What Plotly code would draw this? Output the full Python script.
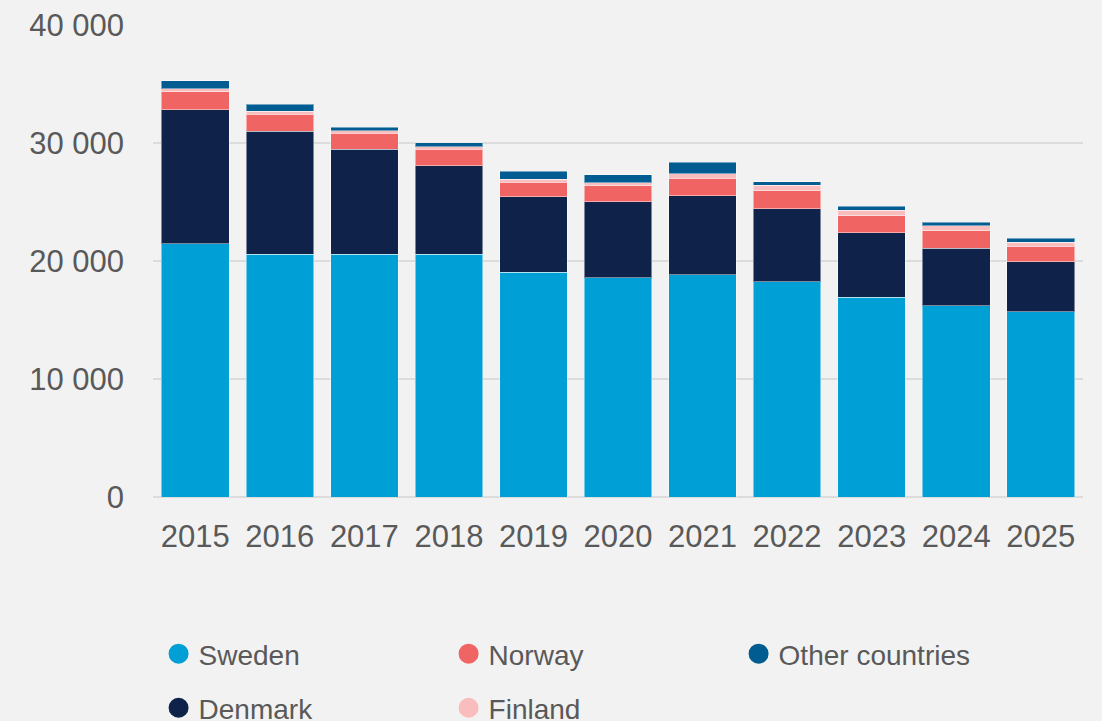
import plotly.graph_objects as go

years = ["2015", "2016", "2017", "2018", "2019", "2020", "2021", "2022", "2023", "2024", "2025"]
sweden = [21470, 20570, 20590, 20570, 19040, 18560, 18840, 18250, 16920, 16210, 15680]
denmark = [11360, 10420, 8870, 7490, 6410, 6470, 6670, 6160, 5480, 4890, 4260]
norway = [1520, 1440, 1360, 1390, 1220, 1330, 1520, 1550, 1440, 1470, 1330]
finland = [230, 280, 200, 250, 250, 280, 360, 460, 460, 400, 340]
other = [680, 570, 310, 340, 700, 650, 970, 280, 340, 310, 310]

# (name, values, colour, legend, rank)
series = [
    ("Sweden", sweden, "#00A0D6", "legend", 1),
    ("Denmark", denmark, "#0F2249", "legend2", 1),
    ("Norway", norway, "#F06464", "legend", 2),
    ("Finland", finland, "#F9BDBD", "legend2", 2),
    ("Other countries", other, "#005C91", "legend", 3),
]

text_color = "#595959"
fig = go.Figure()
for name, vals, color, leg, rank in series:
    fig.add_trace(go.Bar(
        x=years, y=vals, name=name, marker_color=color,
        marker_line=dict(color="rgba(255,255,255,0.45)", width=1),
        showlegend=False, hoverinfo="x+y+name",
    ))
for name, vals, color, leg, rank in series:
    fig.add_trace(go.Scatter(
        x=[None], y=[None], mode="markers", name=name,
        marker=dict(color=color, size=16, symbol="circle",
                    line=dict(color=color, width=4)),
        legend=leg, legendrank=rank, showlegend=True,
    ))

leg_common = dict(
    orientation="h", x=0.006, xanchor="left", yanchor="middle", yref="container",
    font=dict(size=28, color=text_color),
    entrywidth=245, entrywidthmode="pixels",
    traceorder="normal", itemsizing="trace",
    bgcolor="rgba(0,0,0,0)",
)

fig.update_layout(
    barmode="stack",
    bargap=0.2,
    width=1102, height=721,
    paper_bgcolor="#F2F2F2", plot_bgcolor="#F2F2F2",
    margin=dict(l=153, r=19, t=25, b=224, autoexpand=False),
    separators=", ",
    font=dict(family="Liberation Sans, Arial, sans-serif", size=31, color=text_color),
    legend=dict(leg_common, y=0.093),
    legend2=dict(leg_common, y=0.018),
    xaxis=dict(showgrid=False, showline=False, ticks="", ticklabelstandoff=18,
               tickfont=dict(size=31, color=text_color)),
    yaxis=dict(range=[0, 40000], dtick=10000, tickformat=",d",
               showgrid=True, gridcolor="#DCDCDC", gridwidth=2,
               zeroline=True, zerolinecolor="#DCDCDC", zerolinewidth=2,
               showline=False, ticks="", ticklabelstandoff=28,
               tickfont=dict(size=31, color=text_color)),
)

fig.write_html(
    "out.html",
    config={"displayModeBar": False},
    post_script="document.body.style.margin='0';document.body.style.overflow='hidden';",
)
